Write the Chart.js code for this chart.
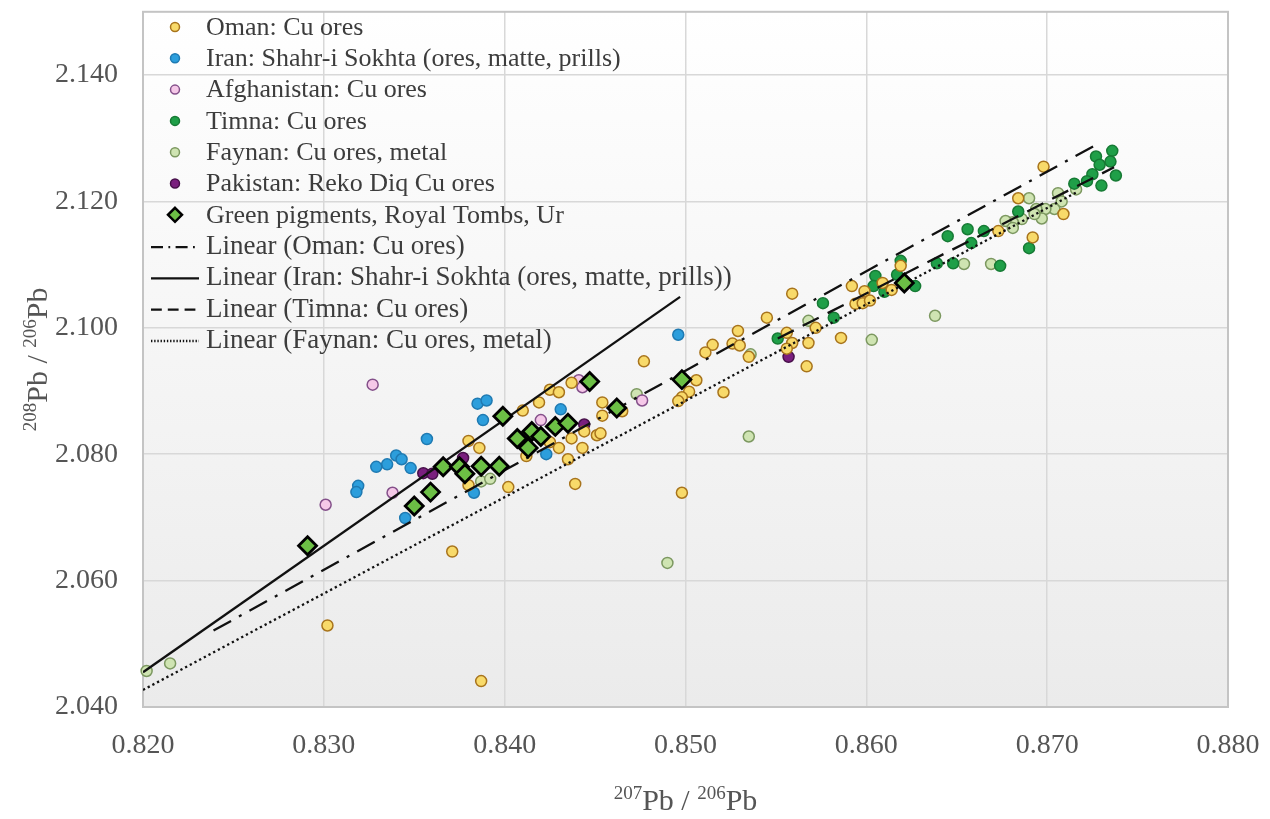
<!DOCTYPE html>
<html>
<head>
<meta charset="utf-8">
<script src="https://cdn.jsdelivr.net/npm/chart.js@4.4.1/dist/chart.umd.min.js"></script>
<style>
  html, body { margin: 0; padding: 0; background: #fff; }
  #wrap { width: 1270px; height: 819px; }
</style>
</head>
<body>
<div id="wrap"><canvas id="chart" width="1270" height="819"></canvas></div>
<script>
// 207Pb/206Pb (x) and 208Pb/206Pb (y)
const omanX = [0.8698,0.8684,0.8709,0.8692,0.8673,0.8559,0.8545,0.8592,0.8619,0.8609,0.8614,0.8599,0.8594,0.8598,0.8602,0.8572,0.8556,0.8559,0.8568,0.8556,0.8586,0.8567,0.8529,0.8515,0.8511,0.8526,0.8530,0.8535,0.8477,0.8506,0.8502,0.8498,0.8496,0.8521,0.8454,0.8454,0.8465,0.8437,0.8425,0.8430,0.8419,0.8410,0.8451,0.8453,0.8437,0.8444,0.8425,0.8430,0.8443,0.8435,0.8412,0.8439,0.8498,0.8380,0.8386,0.8402,0.8380,0.8371,0.8302,0.8387];
const omanY = [2.1255,2.1205,2.1180,2.1143,2.1153,2.1054,2.1016,2.1066,2.1098,2.1071,2.1060,2.1058,2.1038,2.1039,2.1043,2.1000,2.0992,2.0976,2.0976,2.0967,2.0984,2.0939,2.0995,2.0973,2.0961,2.0975,2.0972,2.0954,2.0947,2.0917,2.0899,2.0890,2.0884,2.0898,2.0882,2.0861,2.0868,2.0913,2.0902,2.0898,2.0882,2.0869,2.0830,2.0833,2.0825,2.0836,2.0819,2.0810,2.0810,2.0792,2.0797,2.0753,2.0739,2.0821,2.0810,2.0748,2.0751,2.0646,2.0529,2.0441];

const iranX = [0.8385,0.8390,0.8388,0.8357,0.8340,0.8343,0.8335,0.8329,0.8348,0.8319,0.8318,0.8383,0.8345,0.8496,0.8431,0.8423];
const iranY = [2.0880,2.0885,2.0854,2.0824,2.0798,2.0792,2.0784,2.0780,2.0778,2.0750,2.0740,2.0739,2.0699,2.0989,2.0871,2.0800];

const afghanX = [0.8327,0.8338,0.8301,0.8420,0.8441,0.8443,0.8476];
const afghanY = [2.0910,2.0739,2.0720,2.0854,2.0917,2.0906,2.0885];

const timnaX = [0.8736,0.8727,0.8729,0.8735,0.8738,0.8725,0.8730,0.8722,0.8715,0.8684,0.8690,0.8656,0.8665,0.8658,0.8674,0.8645,0.8648,0.8639,0.8619,0.8605,0.8617,0.8604,0.8610,0.8627,0.8576,0.8582,0.8551];
const timnaY = [2.1280,2.1271,2.1258,2.1263,2.1241,2.1243,2.1225,2.1232,2.1228,2.1184,2.1126,2.1156,2.1153,2.1134,2.1098,2.1145,2.1102,2.1102,2.1106,2.1082,2.1084,2.1066,2.1057,2.1066,2.1039,2.1016,2.0983];

const faynanX = [0.8690,0.8706,0.8708,0.8704,0.8699,0.8694,0.8697,0.8693,0.8686,0.8681,0.8677,0.8681,0.8716,0.8654,0.8669,0.8638,0.8603,0.8568,0.8536,0.8473,0.8535,0.8490,0.8387,0.8392,0.8202,0.8215];
const faynanY = [2.1205,2.1213,2.1200,2.1188,2.1188,2.1188,2.1173,2.1180,2.1172,2.1167,2.1169,2.1158,2.1219,2.1101,2.1101,2.1019,2.0981,2.1011,2.0958,2.0895,2.0828,2.0628,2.0757,2.0761,2.0457,2.0469];

const pakistanX = [0.8355,0.8360,0.8377,0.8444,0.8557];
const pakistanY = [2.0770,2.0769,2.0794,2.0847,2.0954];

const pigmentX = [0.8291,0.8350,0.8359,0.8366,0.8375,0.8378,0.8387,0.8397,0.8399,0.8407,0.8413,0.8415,0.8420,0.8428,0.8435,0.8447,0.8462,0.8498,0.8621];
const pigmentY = [2.0655,2.0718,2.0740,2.0780,2.0780,2.0769,2.0781,2.0781,2.0860,2.0825,2.0810,2.0836,2.0828,2.0844,2.0849,2.0915,2.0873,2.0918,2.1071];

// trend line end points as drawn in the figure
const omanFitX = [0.8239, 0.8726];
const omanFitY = [2.0521, 2.1288];
const iranFitX = [0.8200, 0.8497];
const iranFitY = [2.0455, 2.1049];
const timnaFitX = [0.8551, 0.8737];
const timnaFitY = [2.0983, 2.1254];
const faynanFitX = [0.8200, 0.8716];
const faynanFitY = [2.0427, 2.1214];

const xTicks = [0.820, 0.830, 0.840, 0.850, 0.860, 0.870, 0.880];
const yTicks = [2.040, 2.060, 2.080, 2.100, 2.120, 2.140];

// axis titles: [superscript mass number, element] pairs
const xTitle = [["207", "Pb / "], ["206", "Pb"]];
const yTitle = [["208", "Pb / "], ["206", "Pb"]];

const pts = (xs, ys) => xs.map((x, i) => ({ x: x, y: ys[i] }));

const serif = "'Liberation Serif', 'Times New Roman', serif";

function dot(label, xs, ys, fill, stroke) {
  return {
    label: label,
    data: pts(xs, ys),
    backgroundColor: fill,
    borderColor: stroke,
    borderWidth: 1.5,
    pointRadius: 5.5,
    pointHoverRadius: 5.5,
    clip: false,
    order: 2,
  };
}

function trend(label, xs, ys, dash) {
  return {
    type: "line",
    label: label,
    data: pts(xs, ys),
    borderColor: "#111",
    borderWidth: 2.3,
    borderDash: dash,
    pointRadius: 0,
    fill: false,
    order: 1,
  };
}

const datasets = [
  dot("Oman: Cu ores", omanX, omanY, "#f8da6a", "#a8741c"),
  dot("Iran: Shahr-i Sokhta (ores, matte, prills)", iranX, iranY, "#2c9edc", "#1f7ab2"),
  dot("Afghanistan: Cu ores", afghanX, afghanY, "#f5c8e8", "#84508a"),
  dot("Timna: Cu ores", timnaX, timnaY, "#1f9f48", "#167a34"),
  dot("Faynan: Cu ores, metal", faynanX, faynanY, "#cfe4b2", "#7c9860"),
  dot("Pakistan: Reko Diq Cu ores", pakistanX, pakistanY, "#7a1f7e", "#47104a"),
  {
    label: "Green pigments, Royal Tombs, Ur",
    data: pts(pigmentX, pigmentY),
    pointStyle: "rectRot",
    backgroundColor: "#6cbf45",
    borderColor: "#000",
    borderWidth: 2.8,
    pointRadius: 9,
    pointHoverRadius: 9,
    clip: false,
    order: 0,
  },
  trend("Linear (Oman: Cu ores)", omanFitX, omanFitY, [20, 9, 3, 9]),
  trend("Linear (Iran: Shahr-i Sokhta (ores, matte, prills))", iranFitX, iranFitY, []),
  trend("Linear (Timna: Cu ores)", timnaFitX, timnaFitY, [18, 10]),
  trend("Linear (Faynan: Cu ores, metal)", faynanFitX, faynanFitY, [2.3, 3]),
];

// plot background + frame
const plotFrame = {
  id: "plotFrame",
  beforeDraw(chart) {
    const { ctx, chartArea: a } = chart;
    const g = ctx.createLinearGradient(0, a.top, 0, a.bottom);
    g.addColorStop(0, "#ffffff");
    g.addColorStop(1, "#ebebeb");
    ctx.save();
    ctx.fillStyle = g;
    ctx.fillRect(a.left, a.top, a.right - a.left, a.bottom - a.top);
    ctx.restore();
  },
  beforeDatasetsDraw(chart) {
    const { ctx, chartArea: a } = chart;
    ctx.save();
    ctx.strokeStyle = "#c4c4c4";
    ctx.lineWidth = 2;
    ctx.strokeRect(a.left, a.top, a.right - a.left, a.bottom - a.top);
    ctx.restore();
  },
};

// text with superscript mass numbers, centred at (0,0) of the current transform
function drawIsotopeText(ctx, parts) {
  const big = "30px " + serif;
  const small = "19px " + serif;
  let w = 0;
  parts.forEach(([sup, txt]) => {
    ctx.font = small; w += ctx.measureText(sup).width;
    ctx.font = big; w += ctx.measureText(txt).width;
  });
  let x = -w / 2;
  ctx.textAlign = "left";
  ctx.textBaseline = "alphabetic";
  parts.forEach(([sup, txt]) => {
    ctx.font = small; ctx.fillText(sup, x, -1); x += ctx.measureText(sup).width;
    ctx.font = big; ctx.fillText(txt, x, 10); x += ctx.measureText(txt).width;
  });
}

const axisTitles = {
  id: "axisTitles",
  afterDraw(chart) {
    const { ctx, chartArea: a } = chart;
    ctx.save();
    ctx.fillStyle = "#555";
    ctx.translate((a.left + a.right) / 2, 800);
    drawIsotopeText(ctx, xTitle);
    ctx.restore();
    ctx.save();
    ctx.fillStyle = "#555";
    ctx.translate(37, (a.top + a.bottom) / 2);
    ctx.rotate(-Math.PI / 2);
    drawIsotopeText(ctx, yTitle);
    ctx.restore();
  },
};

// legend drawn inside the plot, top left
const innerLegend = {
  id: "innerLegend",
  afterDraw(chart) {
    const ctx = chart.ctx;
    ctx.save();
    chart.data.datasets.forEach((ds, i) => {
      const y = 27 + i * 31.3;
      const mx = 175;
      if (ds.type === "line") {
        ctx.strokeStyle = "#111";
        ctx.lineWidth = 2.3;
        ctx.setLineDash(ds.borderDash.length ? ds.borderDash.map((d) => d * 0.6) : []);
        ctx.beginPath();
        ctx.moveTo(151, y + 1);
        ctx.lineTo(199, y + 1);
        ctx.stroke();
        ctx.setLineDash([]);
        ctx.font = "27px " + serif;
      } else if (ds.pointStyle === "rectRot") {
        ctx.fillStyle = ds.backgroundColor;
        ctx.strokeStyle = ds.borderColor;
        ctx.lineWidth = 2.5;
        ctx.beginPath();
        ctx.moveTo(mx, y - 7);
        ctx.lineTo(mx + 7, y);
        ctx.lineTo(mx, y + 7);
        ctx.lineTo(mx - 7, y);
        ctx.closePath();
        ctx.fill();
        ctx.stroke();
        ctx.font = "26px " + serif;
      } else {
        ctx.fillStyle = ds.backgroundColor;
        ctx.strokeStyle = ds.borderColor;
        ctx.lineWidth = 1.5;
        ctx.beginPath();
        ctx.arc(mx, y, 4.5, 0, Math.PI * 2);
        ctx.fill();
        ctx.stroke();
        ctx.font = "26px " + serif;
      }
      ctx.fillStyle = "#3c3c3c";
      ctx.textBaseline = "middle";
      ctx.textAlign = "left";
      ctx.fillText(ds.label, 206, y + 1);
    });
    ctx.restore();
  },
};

try {
  const ctx = document.getElementById("chart");

  new Chart(ctx, {
    type: "scatter",
    data: { datasets: datasets },
    options: {
      responsive: false,
      animation: false,
      devicePixelRatio: 1,
      layout: { padding: { left: 0, right: 42, top: 8, bottom: 0 } },
      plugins: {
        legend: { display: false },
        tooltip: { enabled: false },
      },
      scales: {
        x: {
          type: "linear",
          min: 0.82,
          max: 0.88,
          afterBuildTicks: (s) => {
            s.ticks = xTicks.map((v) => ({ value: v }));
          },
          afterFit: (s) => {
            s.height = 112;
            s.paddingLeft = 0;
            s.paddingRight = 0;
          },
          ticks: {
            callback: (v) => v.toFixed(3),
            font: { family: serif, size: 28 },
            color: "#555",
            padding: 22,
            maxRotation: 0,
          },
          grid: { color: "#d8d8d8", lineWidth: 1.5, drawTicks: false },
          border: { display: false },
        },
        y: {
          type: "linear",
          min: 2.04,
          max: 2.15,
          afterBuildTicks: (s) => {
            s.ticks = yTicks.map((v) => ({ value: v }));
          },
          afterFit: (s) => {
            s.width = 143;
            s.paddingTop = 0;
            s.paddingBottom = 0;
          },
          ticks: {
            callback: (v) => v.toFixed(3),
            font: { family: serif, size: 28 },
            color: "#555",
            padding: 25,
          },
          grid: { color: "#d8d8d8", lineWidth: 1.5, drawTicks: false },
          border: { display: false },
        },
      },
    },
    plugins: [plotFrame, axisTitles, innerLegend],
  });
} catch (e) {
  console.error("Chart initialization error:", e);
}
</script>
</body>
</html>
